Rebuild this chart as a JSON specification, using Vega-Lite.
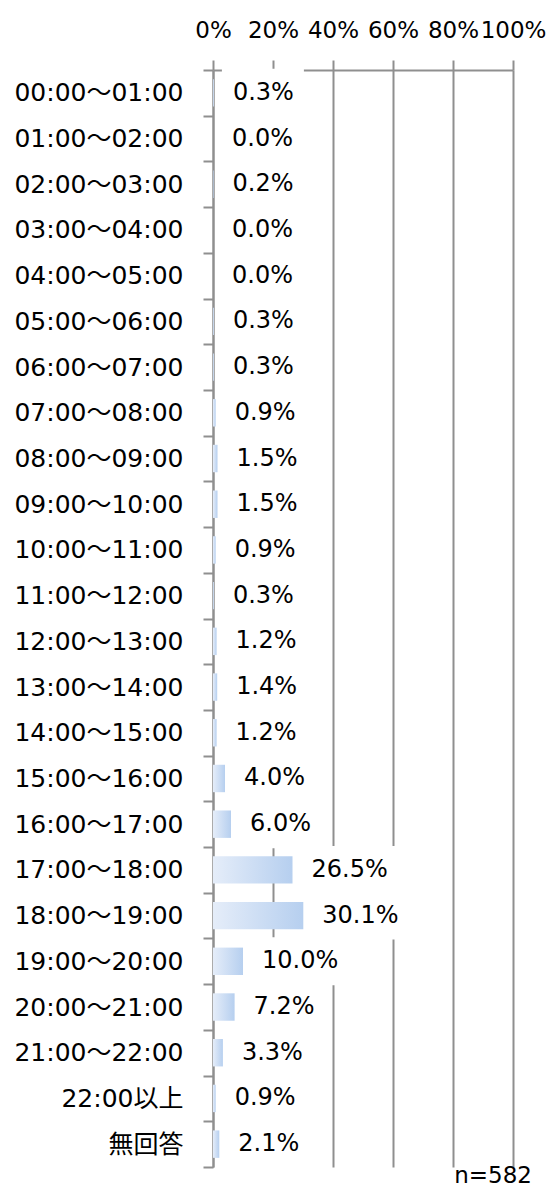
{
  "$schema": "https://vega.github.io/schema/vega-lite/v6.json",
  "width": 300,
  "height": 1097,
  "autosize": "none",
  "padding": {"left": 213, "top": 70, "right": 37, "bottom": 22},
  "background": "white",
  "config": {
    "view": {"stroke": null},
    "font": "DejaVu Sans, Noto Sans CJK JP",
    "axis": {"labelFont": "DejaVu Sans, Noto Sans CJK JP", "labelColor": "black"}
  },
  "data": {
    "values": [
      {"t": "00:00～01:00", "v": 0.003},
      {"t": "01:00～02:00", "v": 0.0},
      {"t": "02:00～03:00", "v": 0.002},
      {"t": "03:00～04:00", "v": 0.0},
      {"t": "04:00～05:00", "v": 0.0},
      {"t": "05:00～06:00", "v": 0.003},
      {"t": "06:00～07:00", "v": 0.003},
      {"t": "07:00～08:00", "v": 0.009},
      {"t": "08:00～09:00", "v": 0.015},
      {"t": "09:00～10:00", "v": 0.015},
      {"t": "10:00～11:00", "v": 0.009},
      {"t": "11:00～12:00", "v": 0.003},
      {"t": "12:00～13:00", "v": 0.012},
      {"t": "13:00～14:00", "v": 0.014},
      {"t": "14:00～15:00", "v": 0.012},
      {"t": "15:00～16:00", "v": 0.040},
      {"t": "16:00～17:00", "v": 0.060},
      {"t": "17:00～18:00", "v": 0.265},
      {"t": "18:00～19:00", "v": 0.301},
      {"t": "19:00～20:00", "v": 0.100},
      {"t": "20:00～21:00", "v": 0.072},
      {"t": "21:00～22:00", "v": 0.033},
      {"t": "22:00以上", "v": 0.009},
      {"t": "無回答", "v": 0.021}
    ]
  },
  "encoding": {
    "y": {
      "field": "t",
      "type": "nominal",
      "sort": null,
      "title": null,
      "scale": {"paddingInner": 0, "paddingOuter": 0},
      "axis": {
        "tickBand": "extent",
        "domainColor": "#8f8f8f",
        "domainWidth": 2,
        "tickColor": "#8f8f8f",
        "tickWidth": 2,
        "tickSize": 10,
        "labelFontSize": 25,
        "labelPadding": 20,
        "labelColor": "black"
      }
    }
  },
  "layer": [
    {
      "mark": {
        "type": "bar",
        "height": {"band": 0.6},
        "color": {
          "gradient": "linear",
          "x1": 0, "x2": 1, "y1": 0, "y2": 0,
          "stops": [
            {"offset": 0, "color": "#e5edf9"},
            {"offset": 1, "color": "#b6cfef"}
          ]
        }
      },
      "encoding": {
        "x": {
          "field": "v",
          "type": "quantitative",
          "title": null,
          "scale": {"domain": [0, 1], "nice": false},
          "axis": {
            "orient": "top",
            "values": [0, 0.2, 0.4, 0.6, 0.8, 1],
            "format": ".0%",
            "grid": true,
            "gridColor": "#8f8f8f",
            "gridWidth": 2,
            "domainColor": "#8f8f8f",
            "domainWidth": 2,
            "tickColor": "#8f8f8f",
            "tickWidth": 2,
            "tickSize": 10,
            "labelFontSize": 23,
            "labelPadding": 18,
            "labelFlush": false,
            "labelOverlap": false,
            "labelColor": "black"
          }
        }
      }
    },
    {
      "transform": [{"filter": "datum.v < 0.1"}],
      "mark": {
        "type": "point",
        "shape": "M0.16,-0.48H1.8V0.48H0.16Z",
        "size": 10000,
        "filled": true,
        "color": "white",
        "opacity": 1,
        "strokeWidth": 0
      },
      "encoding": {"x": {"field": "v", "type": "quantitative"}}
    },
    {
      "transform": [{"filter": "datum.v >= 0.1"}],
      "mark": {
        "type": "point",
        "shape": "M0.16,-0.48H2.12V0.48H0.16Z",
        "size": 10000,
        "filled": true,
        "color": "white",
        "opacity": 1,
        "strokeWidth": 0
      },
      "encoding": {"x": {"field": "v", "type": "quantitative"}}
    },
    {
      "mark": {
        "type": "text",
        "align": "left",
        "baseline": "middle",
        "dx": 19,
        "fontSize": 24,
        "color": "black"
      },
      "encoding": {
        "x": {"field": "v", "type": "quantitative"},
        "text": {"field": "v", "type": "quantitative", "format": ".1%"}
      }
    }
  ],
  "title": {
    "text": "n=582",
    "orient": "bottom",
    "anchor": "end",
    "frame": "group",
    "fontSize": 23,
    "fontWeight": "normal",
    "color": "black",
    "offset": -3,
    "dx": 19
  }
}
